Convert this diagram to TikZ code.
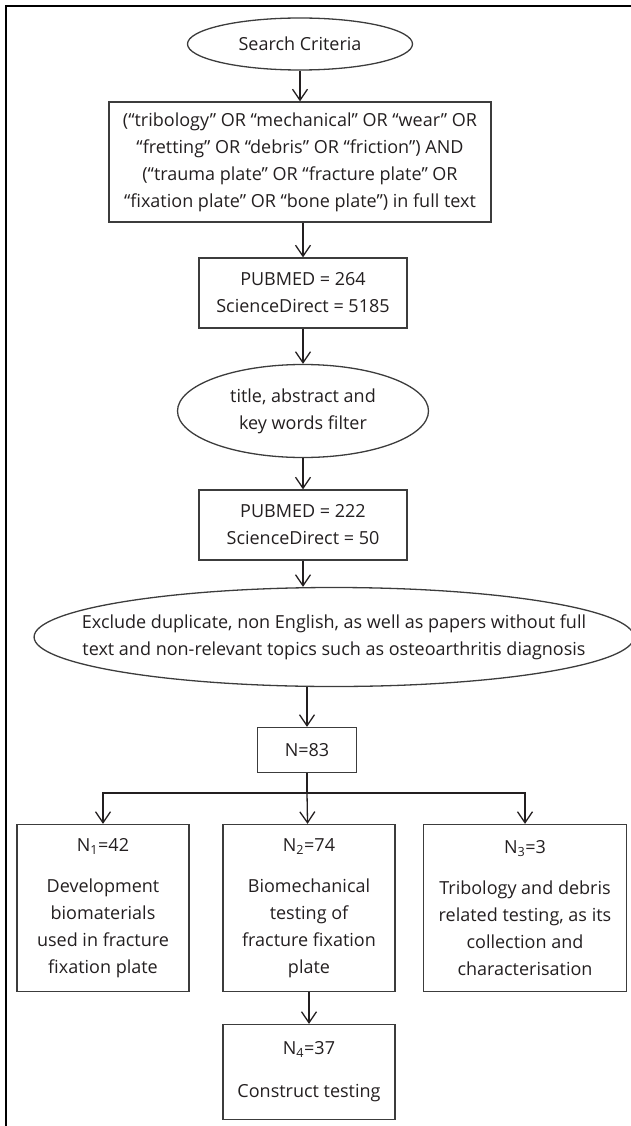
\documentclass[tikz,border=0pt]{standalone}
\usepackage{fontspec}
\setmainfont{Open Sans}
\usetikzlibrary{positioning,shapes,arrows.meta}
\definecolor{ink}{RGB}{35,31,32}
\definecolor{boxline}{RGB}{60,60,60}

\begin{document}
\begin{tikzpicture}[x=1pt,y=-1pt]
    \tikzstyle{every node}=[draw=boxline,line width=1.3,text=ink,align=center,inner sep=0,font=\fontsize{18}{27}\selectfont]
    \tikzstyle{box}=[rectangle]
    \tikzstyle{oval}=[ellipse]
    \tikzstyle{flow}=[color=ink,line width=1.3,-{Straight Barb[length=11,width=15]}]
    {
        \useasboundingbox (0,0) rectangle (630,1126);
        \draw[line width=2.5,line cap=rect] (630,6) -- (6,6) -- (6,1126);

        \node[oval,minimum width=225,minimum height=52] (crit) at (300,44) {Search Criteria};
        \node[box,minimum width=382,minimum height=120] (query) at (300,162)
            {(“tribology” OR “mechanical” OR “wear” OR\\
             “fretting” OR “debris” OR “friction”) AND\\
             (“trauma plate” OR “fracture plate” OR\\
             “fixation plate” OR “bone plate”) in full text};
        \node[box,minimum width=208,minimum height=70] (hits1) at (303,293) {PUBMED = 264\\ScienceDirect = 5185};
        \node[oval,minimum width=251,minimum height=93] (filter) at (303,411) {title, abstract and\\key words filter};
        \node[box,minimum width=208,minimum height=70] (hits2) at (303,525) {PUBMED = 222\\ScienceDirect = 50};
        \node[oval,inner xsep=-40,minimum width=584,minimum height=99] (excl) at (334,637)
            {Exclude duplicate, non English, as well as papers without full\\
             text and non-relevant topics such as osteoarthritis diagnosis};
        \node[box,minimum width=99,minimum height=45] (total) at (307,750) {N=83};
        \coordinate (split) at (307,793);

        \node[box,minimum width=172,minimum height=167] (n1) at (103,908)
            {N\textsubscript{1}=42\\[14pt]Development\\biomaterials\\used in fracture\\fixation plate};
        \node[box,minimum width=172,minimum height=167] (n2) at (309,908)
            {N\textsubscript{2}=74\\[14pt]Biomechanical\\testing of\\fracture fixation\\plate};
        \node[box,minimum width=203,minimum height=167] (n3) at (525,908)
            {N\textsubscript{3}=3\\[14pt]Tribology and debris\\related testing, as its\\collection and\\characterisation};
        \node[box,minimum width=172,minimum height=95] (n4) at (309,1072)
            {N\textsubscript{4}=37\\[16pt]Construct testing};

        \path[flow]
            (crit) edge (crit |- query.north)
            (query.south -| hits1) edge (hits1)
            (hits1) edge (filter)
            (filter) edge (hits2)
            (hits2) edge (hits2 |- excl.north)
            (total |- excl.south) edge (total);

        \draw[color=ink,line width=1.3] (total) -- (split);
        \draw[flow] (split) -| (n1);
        \draw[flow] (split) -- (n2);
        \draw[flow] (split) -| (n3);
        \draw[flow] (n2) -- (n4);
    }
\end{tikzpicture}
\end{document}
